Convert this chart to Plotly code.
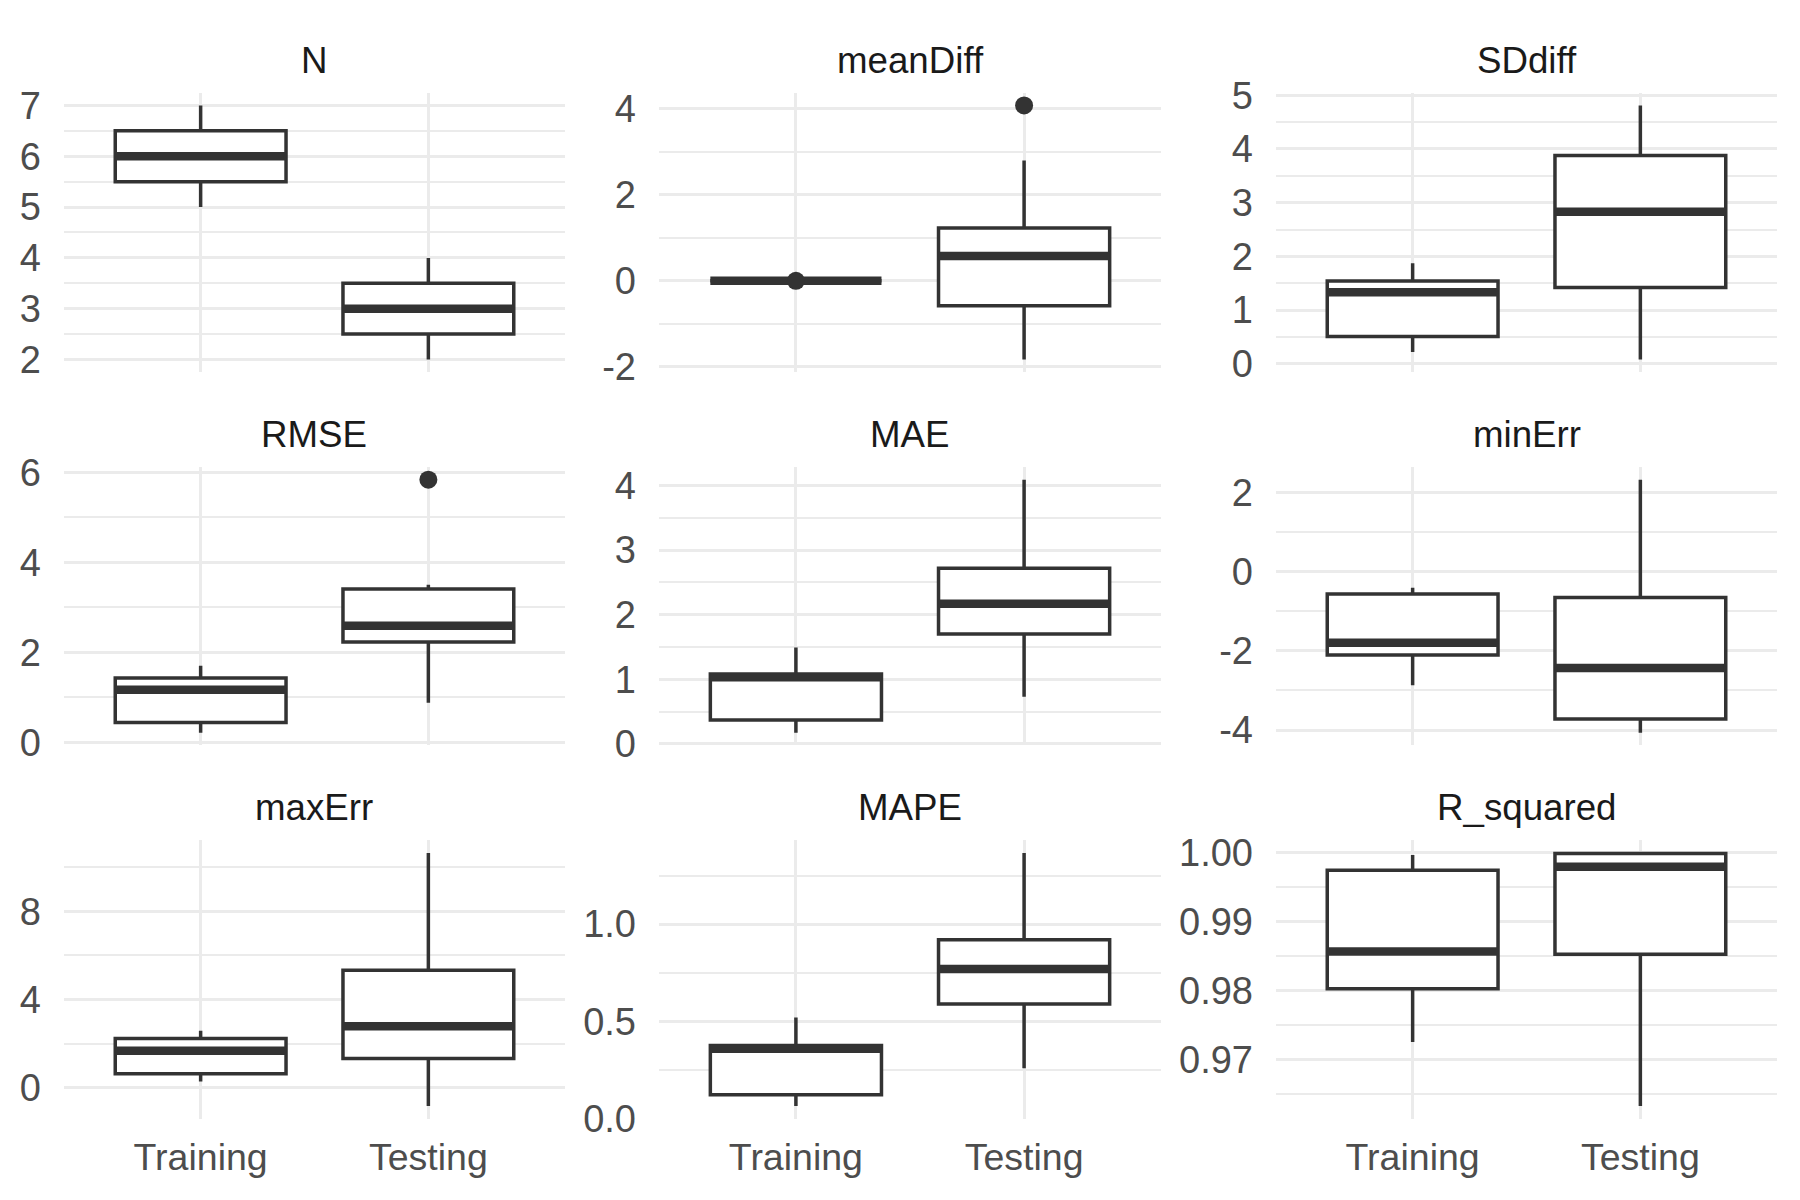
import plotly.graph_objects as go

# ---------------- data ----------------
CATEGORIES = ["Training", "Testing"]
METRICS = ["N", "meanDiff", "SDdiff", "RMSE", "MAE", "minErr", "maxErr", "MAPE", "R_squared"]

LOWER = [[5, 2], [0.0, -1.83], [0.22, 0.08], [0.21, 0.88], [0.17, 0.73],
         [-2.87, -4.07], [0.29, -0.83], [0.065, 0.26], [0.9725, 0.9632]]
Q1 = [[5.5, 2.5], [0.0, -0.58], [0.51, 1.42], [0.44, 2.23], [0.37, 1.70],
      [-2.10, -3.72], [0.64, 1.33], [0.124, 0.59], [0.9802, 0.9852]]
MEDIAN = [[6, 3], [0.0, 0.58], [1.33, 2.83], [1.17, 2.59], [1.03, 2.17],
          [-1.79, -2.43], [1.68, 2.79], [0.36, 0.77], [0.9856, 0.9979]]
Q3 = [[6.5, 3.5], [0.0, 1.23], [1.54, 3.88], [1.43, 3.41], [1.08, 2.72],
      [-0.56, -0.65], [2.23, 5.33], [0.376, 0.92], [0.9974, 0.9998]]
UPPER = [[7, 4], [0.0, 2.80], [1.87, 4.81], [1.70, 3.50], [1.49, 4.09],
         [-0.40, 2.33], [2.59, 10.64], [0.52, 1.366], [0.9996, 0.9999]]
OUTLIERS_TRAINING = [[], [0.0], [], [], [], [], [], [], []]
OUTLIERS_TESTING = [[], [4.08], [], [5.84], [], [], [], [], []]

Y_TICKS = [[2, 3, 4, 5, 6, 7], [-2, 0, 2, 4], [0, 1, 2, 3, 4, 5], [0, 2, 4, 6],
           [0, 1, 2, 3, 4], [-4, -2, 0, 2], [0, 4, 8], [0.0, 0.5, 1.0],
           [0.97, 0.98, 0.99, 1.00]]
Y_TICK_TEXT = [["2", "3", "4", "5", "6", "7"], ["-2", "0", "2", "4"],
               ["0", "1", "2", "3", "4", "5"], ["0", "2", "4", "6"],
               ["0", "1", "2", "3", "4"], ["-4", "-2", "0", "2"], ["0", "4", "8"],
               ["0.0", "0.5", "1.0"], ["0.97", "0.98", "0.99", "1.00"]]
Y_MINOR_STEP = [0.5, 1, 0.5, 1, 0.5, 1, 2, 0.25, 0.005]

# ---------------- style / layout ----------------
W, H = 1784, 1184
COL_PX = [(56, 557), (651, 1153), (1268, 1769)]
ROW_PX = [(69, 358), (456, 744), (842, 1130)]
FONT = "Liberation Sans, Arial, Helvetica, sans-serif"
DARK = "#333333"
GRID = "#EBEBEB"
BOX_WIDTH = 0.75
LINE_W = 3.5
MEDIAN_W = 8.5

fig = go.Figure()
annotations = []

for k, metric in enumerate(METRICS):
    r, c = divmod(k, 3)
    ax = "" if k == 0 else str(k + 1)
    xref, yref = "x" + ax, "y" + ax
    xs = list(range(len(CATEGORIES)))

    fig.add_trace(go.Box(
        x=xs, q1=Q1[k], median=MEDIAN[k], q3=Q3[k],
        lowerfence=LOWER[k], upperfence=UPPER[k],
        width=BOX_WIDTH, whiskerwidth=0, boxpoints=False,
        fillcolor="white", line=dict(color=DARK, width=LINE_W),
        xaxis=xref, yaxis=yref, showlegend=False, hoverinfo="skip"))

    # thick median segments
    mx, my = [], []
    for i in xs:
        mx += [i - BOX_WIDTH / 2, i + BOX_WIDTH / 2, None]
        my += [MEDIAN[k][i], MEDIAN[k][i], None]
    fig.add_trace(go.Scatter(x=mx, y=my, mode="lines",
                             line=dict(color=DARK, width=MEDIAN_W),
                             xaxis=xref, yaxis=yref, showlegend=False,
                             hoverinfo="skip"))

    # outliers
    ox = [0] * len(OUTLIERS_TRAINING[k]) + [1] * len(OUTLIERS_TESTING[k])
    oy = OUTLIERS_TRAINING[k] + OUTLIERS_TESTING[k]
    if oy:
        fig.add_trace(go.Scatter(x=ox, y=oy, mode="markers",
                                 marker=dict(color=DARK, size=18),
                                 xaxis=xref, yaxis=yref, showlegend=False,
                                 hoverinfo="skip"))

    allv = LOWER[k] + UPPER[k] + oy
    lo, hi = min(allv), max(allv)
    pad = 0.05 * (hi - lo)

    x0, x1 = COL_PX[c]
    y0, y1 = ROW_PX[r]
    xdom = [x0 / W, x1 / W]
    ydom = [1 - y1 / H, 1 - y0 / H]

    fig.layout["xaxis" + ax] = dict(
        domain=xdom, anchor=yref, range=[-0.6, 1.6],
        tickmode="array", tickvals=xs, ticktext=CATEGORIES,
        showticklabels=(r == 2), ticks="", showline=False, zeroline=False,
        showgrid=True, gridcolor=GRID, gridwidth=3,
        tickfont=dict(family=FONT, size=37.5, color="#4D4D4D"),
        ticklabelstandoff=13, fixedrange=True)
    fig.layout["yaxis" + ax] = dict(
        domain=ydom, anchor=xref, range=[lo - pad, hi + pad],
        tickmode="array", tickvals=Y_TICKS[k], ticktext=Y_TICK_TEXT[k],
        ticks="", showline=False, zeroline=False,
        showgrid=True, gridcolor=GRID, gridwidth=3,
        minor=dict(tickmode="linear", tick0=Y_TICKS[k][0], dtick=Y_MINOR_STEP[k],
                   showgrid=True, gridcolor=GRID, gridwidth=1.8, ticks=""),
        tickfont=dict(family=FONT, size=38, color="#4D4D4D"),
        ticklabelstandoff=22, fixedrange=True)

    annotations.append(dict(
        text=metric, xref="paper", yref="paper",
        x=(xdom[0] + xdom[1]) / 2, y=ydom[1], xanchor="center", yanchor="bottom",
        yshift=10, showarrow=False,
        font=dict(family=FONT, size=36.7, color="#1A1A1A")))

fig.update_layout(
    width=W, height=H, margin=dict(l=0, r=0, t=0, b=0, pad=0),
    paper_bgcolor="white", plot_bgcolor="white",
    annotations=annotations, showlegend=False)

fig.write_html("out.html")
